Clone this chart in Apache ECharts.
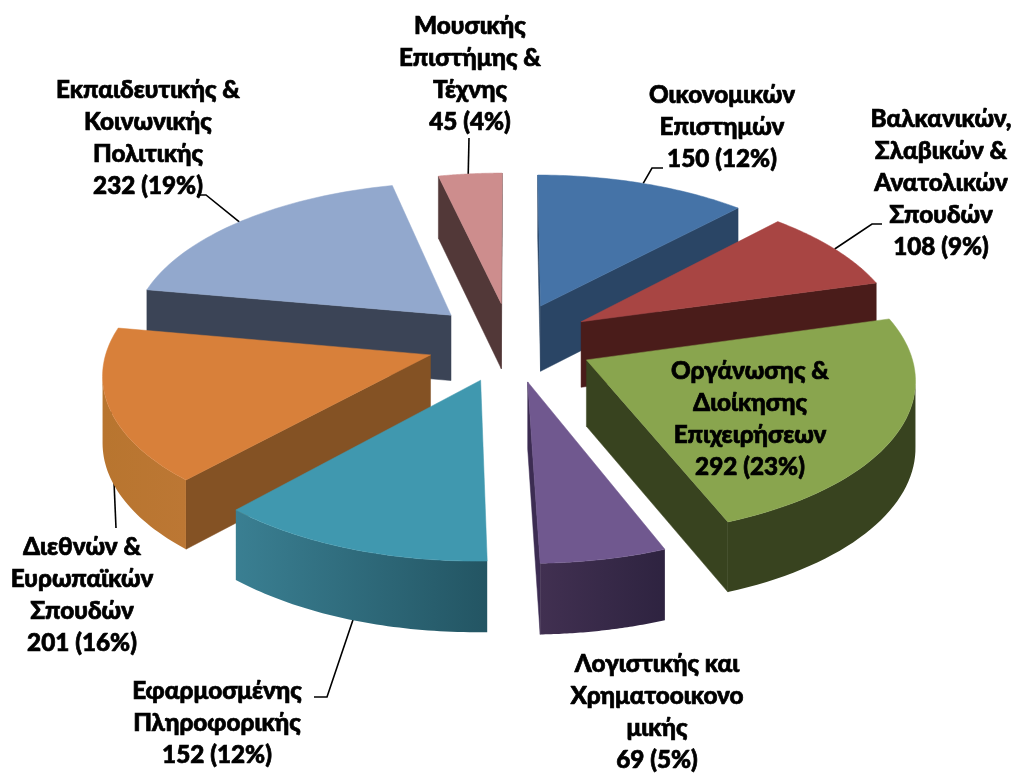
<!DOCTYPE html>
<html><head><meta charset="utf-8">
<style>html,body{margin:0;padding:0;background:#fff}#c{width:1015px;height:774px}</style>
<script src="https://cdn.jsdelivr.net/npm/echarts@6/dist/echarts.min.js"></script>
</head><body><div id="c"></div>
<script>
const categories = ["Οικονομικών\nΕπιστημών","Βαλκανικών,\nΣλαβικών &\nΑνατολικών\nΣπουδών","Οργάνωσης &\nΔιοίκησης\nΕπιχειρήσεων","Λογιστικής και\nΧρηματοοικονο\nμικής","Εφαρμοσμένης\nΠληροφορικής","Διεθνών &\nΕυρωπαϊκών\nΣπουδών","Εκπαιδευτικής &\nΚοινωνικής\nΠολιτικής","Μουσικής\nΕπιστήμης &\nΤέχνης"];
const values = [150,108,292,69,152,201,232,45];
const percents = [12,9,23,5,12,16,19,4];

const topColors = ["#4573a7","#a84543","#89a54e","#70588f","#4098af","#d8803a","#92a8cd","#cd8d8d"];
const edgeColors = ["#2a4565","#4a1c1a","#38431f","#3c2c52","#2f6f80","#845224","#3b4456","#523838"];
const rimColors = [["#2a4565","#2a4565"],["#4a1c1a","#4a1c1a"],["#38431f","#38431f"],["#413051","#2e2340"],["#3a7f92","#235563"],["#b8752f","#bc7734"],["#3b4456","#3b4456"],["#523838","#523838"]];
const labelCenters = [[722,127],[941,183],[750,419],[657,712],[217,723],[82,595],[148,138],[470,74]];
const leaderElbows = [[[652,168],[663,168]],[[872,224],[882,224]],[],[],[[327,697],[314,697]],[[116,528]],[[206,195],[197,195]],[[469,138]]];
const leaderFractions = [0.5,0.5,0.5,0.5,0.4,0.47,0.49,0.47];
const geometry = {cx:510.5,cy:342,rx:322,ry:152.5,persp:0.108,explode:0.26,depth:66,dropPersp:0.5};

const total = values.reduce((a,b)=>a+b,0);
const starts = values.map((_,i)=>values.slice(0,i).reduce((a,b)=>a+b,0)/total*2*Math.PI);
const ends = values.map((v,i)=>starts[i]+v/total*2*Math.PI);
const mids = values.map((_,i)=>(starts[i]+ends[i])/2);

function project(u,v,drop){
  const g=geometry, s=1/(1-g.persp*v);
  return [g.cx+g.rx*u*s, g.cy+g.ry*v*s+(drop?g.depth*(1+g.dropPersp*(s-1)):0)];
}
function apex(i,drop){
  const e=geometry.explode;
  return project(e*Math.sin(mids[i]),-e*Math.cos(mids[i]),drop);
}
function rim(i,t,drop){
  const e=geometry.explode;
  return project(e*Math.sin(mids[i])+Math.sin(t),-e*Math.cos(mids[i])-Math.cos(t),drop);
}
function rimAngles(i){
  const n=48,a=[];
  for(let k=0;k<=n;k++)a.push(starts[i]+(ends[i]-starts[i])*k/n);
  return a;
}
function sliceShapes(i){
  const out=[];
  const A=apex(i),M0=rim(i,mids[i]),M=[(A[0]+M0[0])/2,(A[1]+M0[1])/2];
  [starts[i],ends[i]].forEach(t=>{
    const P=rim(i,t),dx=P[0]-A[0],dy=P[1]-A[1];
    const sideDown=dx, sideIn=dx*(M[1]-A[1])-dy*(M[0]-A[0]);
    if(sideDown*sideIn<0){
      out.push({type:'polygon',shape:{points:[A,P,rim(i,t,true),apex(i,true)]},
        style:{fill:edgeColors[i],stroke:edgeColors[i],lineWidth:0.5}});
    }
  });
  const angs=rimAngles(i),vis=[];
  for(let k=0;k<angs.length-1;k++){
    if(rim(i,angs[k+1])[0]<rim(i,angs[k])[0]){
      if(!vis.length)vis.push(angs[k]);
      vis.push(angs[k+1]);
    }
  }
  if(vis.length){
    const pts=vis.map(t=>rim(i,t)).concat(vis.slice().reverse().map(t=>rim(i,t,true)));
    out.push({type:'polygon',shape:{points:pts},style:{
      fill:new echarts.graphic.LinearGradient(0,0,1,0,[{offset:0,color:rimColors[i][0]},{offset:1,color:rimColors[i][1]}]),
      stroke:null}});
  }
  out.push({type:'polygon',shape:{points:[A].concat(angs.map(t=>rim(i,t)))},
    style:{fill:topColors[i],stroke:topColors[i],lineWidth:0.5}});
  return out;
}
const paintOrder = values.map((_,i)=>i).sort((a,b)=>(-Math.cos(mids[a]))-(-Math.cos(mids[b])));

const chart = echarts.init(document.getElementById('c'),null,{renderer:'canvas'});
chart.setOption({
  animation:false,
  backgroundColor:'#ffffff',
  series:[
    {type:'custom',coordinateSystem:'none',z:1,silent:true,
     data:values.map((v,i)=>({name:categories[i],value:[i,v]})),
     renderItem:(p,api)=>{
       const i=api.value(0);
       if(!leaderElbows[i].length)return {type:'group',children:[]};
       const t=starts[i]+(ends[i]-starts[i])*leaderFractions[i];
       return {type:'polyline',shape:{points:[rim(i,t)].concat(leaderElbows[i])},
         style:{fill:null,stroke:'#000',lineWidth:1.6}};
     }},
    {type:'custom',coordinateSystem:'none',z:2,silent:true,
     data:paintOrder.map(i=>({name:categories[i],value:[i,values[i]]})),
     renderItem:(p,api)=>({type:'group',children:sliceShapes(api.value(0))})},
    {type:'custom',coordinateSystem:'none',z:3,silent:true,
     data:values.map((v,i)=>({name:categories[i],value:[i,v]})),
     renderItem:(p,api)=>{
       const i=api.value(0);
       return {type:'text',style:{
         text:categories[i]+"\n"+values[i]+" ("+percents[i]+"%)",
         x:labelCenters[i][0],y:labelCenters[i][1],align:'center',verticalAlign:'middle',
         fontFamily:"Lato, 'Open Sans', 'Noto Sans', sans-serif",fontWeight:900,fontSize:24.3,lineHeight:32,
         fill:'#000',stroke:'#000',lineWidth:0.7}};
     }}
  ]
});
</script></body></html>
